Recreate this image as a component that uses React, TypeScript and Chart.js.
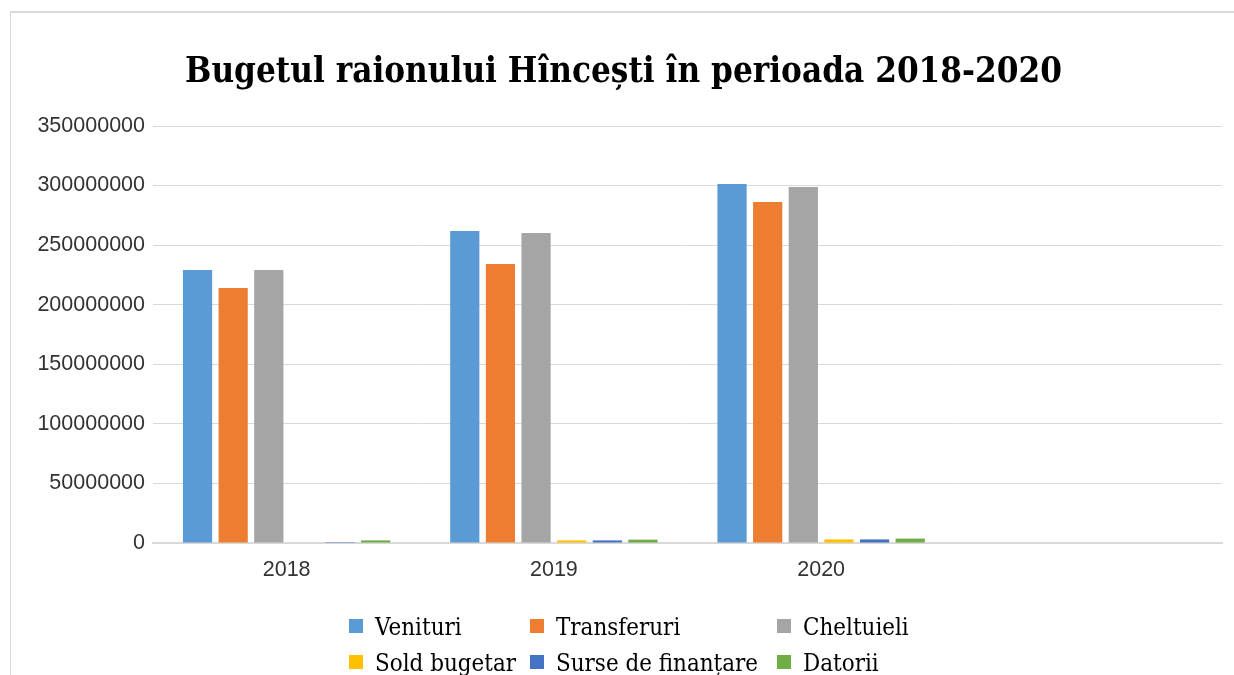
import React, { useEffect, useRef } from "react";
import { Chart, registerables } from "chart.js";

Chart.register(...registerables);

const TITLE = "Bugetul raionului Hîncești în perioada 2018-2020";
const categories = ["2018", "2019", "2020", ""];
const seriesNames = ["Venituri", "Transferuri", "Cheltuieli", "Sold bugetar", "Surse de finanțare", "Datorii"];
const venituri = [229100000, 261900000, 301300000, null];
const transferuri = [214000000, 234200000, 286200000, null];
const cheltuieli = [229100000, 260200000, 298800000, null];
const soldBugetar = [0, 2200000, 3000000, null];
const surseFinantare = [800000, 2200000, 3000000, null];
const datorii = [2200000, 2800000, 3700000, null];
const yMin = 0;
const yMax = 350000000;
const yStep = 50000000;

const colors = ["#5b9bd5", "#ed7d31", "#a5a5a5", "#ffc000", "#4472c4", "#70ad47"];
const seriesValues = [venituri, transferuri, cheltuieli, soldBugetar, surseFinantare, datorii];

const decorPlugin = {
  id: "decor",
  afterDraw(chart: any) {
    const ctx = chart.ctx;
    // Title
    ctx.save();
    ctx.fillStyle = "#000000";
    ctx.font = 'bold 35px "DejaVu Serif"';
    ctx.textBaseline = "alphabetic";
    ctx.textAlign = "left";
    const w = ctx.measureText(TITLE).width;
    const sx = 877 / w;
    ctx.translate(623.5, 82);
    ctx.scale(sx, 1);
    ctx.fillText(TITLE, -w / 2, 0);
    ctx.restore();

    // Legend (3 columns x 2 rows)
    const colX = [349, 530, 777];
    const rowY = [626, 662];
    chart.data.datasets.forEach((ds: any, i: number) => {
      const col = i % 3;
      const row = Math.floor(i / 3);
      const x = colX[col];
      const y = rowY[row];
      ctx.save();
      ctx.fillStyle = ds.backgroundColor;
      ctx.fillRect(x, y - 7, 14, 14);
      ctx.fillStyle = "#000000";
      ctx.font = '25px "DejaVu Serif"';
      ctx.textBaseline = "alphabetic";
      ctx.textAlign = "left";
      ctx.translate(x + 26, y + 9);
      ctx.scale(0.86, 1);
      ctx.fillText(ds.label, 0, 0);
      ctx.restore();
    });
  },
};

export default function App() {
  const canvasRef = useRef<HTMLCanvasElement | null>(null);

  useEffect(() => {
    if (!canvasRef.current) return;
    const chart = new Chart(canvasRef.current, {
      type: "bar",
      data: {
        labels: categories,
        datasets: seriesNames.map((name, i) => ({
          label: name,
          data: seriesValues[i] as any,
          backgroundColor: colors[i],
          borderWidth: 0,
          categoryPercentage: 0.8,
          barPercentage: 0.82,
        })),
      },
      options: {
        animation: false,
        responsive: false,
        devicePixelRatio: 1,
        layout: { padding: { top: 126, right: 12, bottom: 92, left: 0 } },
        plugins: {
          legend: { display: false },
          title: { display: false },
          tooltip: { enabled: false },
        },
        scales: {
          x: {
            grid: { display: false },
            border: { display: true, color: "#d9d9d9", width: 2 },
            ticks: {
              color: "#333333",
              font: { family: '"Liberation Sans", Arial, sans-serif', size: 21.5 },
              padding: 6,
            },
            afterFit(scale: any) {
              scale.height = 40;
            },
          },
          y: {
            min: yMin,
            max: yMax,
            grid: { color: "#d9d9d9", lineWidth: 1, drawTicks: false },
            border: { display: false },
            ticks: {
              stepSize: yStep,
              color: "#333333",
              font: { family: '"Liberation Sans", Arial, sans-serif', size: 21.5 },
              padding: 8,
              callback: (v: any) => String(v),
            },
            afterFit(scale: any) {
              scale.width = 153;
            },
          },
        },
      },
      plugins: [decorPlugin],
    });
    return () => chart.destroy();
  }, []);

  return (
    <div style={{ position: "fixed", left: 0, top: 0, width: 1234, height: 675, overflow: "hidden", background: "#ffffff" }}>
      <div
        style={{
          position: "absolute",
          left: 10,
          top: 11,
          width: 1300,
          height: 800,
          borderTop: "2px solid #d9d9d9",
          borderLeft: "1px solid #d9d9d9",
        }}
      />
      <canvas ref={canvasRef} width={1234} height={675} style={{ position: "absolute", left: 0, top: 0 }} />
    </div>
  );
}
